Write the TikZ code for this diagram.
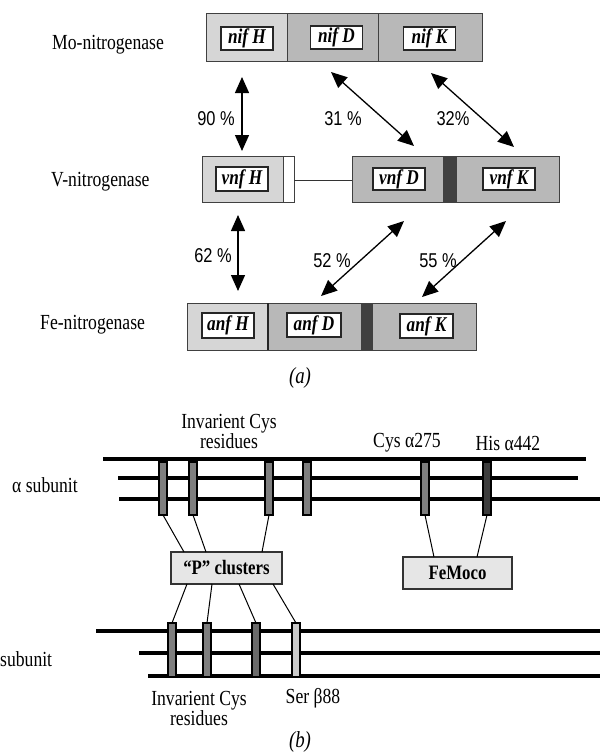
\documentclass[tikz,border=0pt]{standalone}
\usepackage{fontspec}
\setmainfont{Liberation Serif}[FakeStretch=0.82]
\newfontfamily\pctfont{Liberation Sans}[FakeStretch=0.82]
\usetikzlibrary{arrows.meta,calc}
\definecolor{segL}{HTML}{D6D6D6}
\definecolor{segM}{HTML}{B8B8B8}
\definecolor{segDk}{HTML}{404040}
\definecolor{barM}{HTML}{7E7E7E}
\definecolor{barDk}{HTML}{3C3C3C}
\definecolor{barL}{HTML}{CACACA}
\definecolor{boxF}{HTML}{E6E6E6}
\begin{document}
\begin{tikzpicture}[x=1bp,y=-1bp,
  font=\fontsize{21.5bp}{24bp}\selectfont,
  seg/.style={draw=black!75, line width=1bp, minimum height=47bp, inner sep=0pt, outer sep=0pt},
  gene/.style={draw=black!85, fill=white, line width=1.2bp, minimum height=23bp, minimum width=52bp, inner sep=0pt,
     font=\fontsize{21bp}{23bp}\selectfont\bfseries\itshape},
  dbl/.style={line width=1.3bp, {Triangle[length=16bp,width=14bp]}-{Triangle[length=16bp,width=14bp]}},
  pct/.style={font=\pctfont\fontsize{20bp}{22bp}\selectfont, inner sep=0pt},
  chainline/.style={line width=3.5bp},
  barbox/.style={draw=black, line width=1.5bp, minimum width=8bp, inner sep=0pt, outer sep=0pt},
  conn/.style={line width=1bp},
  infobox/.style={draw=black!80, fill=boxF, line width=1.2bp, inner sep=0pt, outer sep=0pt,
     minimum height=32bp, font=\fontsize{20.5bp}{23bp}\selectfont\bfseries},
  txt/.style={inner sep=0pt}
]
\useasboundingbox (0,0) rectangle (600,752);

% ---------------- (a) ----------------
\node[txt, anchor=west] (lmo) at (52,45) {Mo-nitrogenase};
\node[txt, anchor=west] (lv) at (51,182) {V-nitrogenase};
\node[txt, anchor=west] (lfe) at (40,325) {Fe-nitrogenase};

% Mo row
\node[seg, fill=segL, minimum width=81bp] (moH) at (246.5,37.5) {};
\node[seg, fill=segM, minimum width=91bp] (moD) at (332.5,37.5) {};
\node[seg, fill=segM, minimum width=104bp] (moK) at (430,37.5) {};
\node[gene] (nifH) at (247,38.5) {nif H};
\node[gene] (nifD) at (336.5,37.5) {nif D};
\node[gene] (nifK) at (429.5,38.5) {nif K};

% V row
\node[seg, fill=segL, minimum width=81bp, minimum height=46bp] (vH) at (242.5,179) {};
\node[seg, fill=white, minimum width=11bp, minimum height=46bp] (vS) at (288.5,179) {};
\node[seg, fill=segM, minimum width=91bp, minimum height=46bp] (vD) at (397.5,179) {};
\node[seg, fill=segDk, minimum width=13bp, minimum height=46bp] (vX) at (449.5,179) {};
\node[seg, fill=segM, minimum width=103bp, minimum height=46bp] (vK) at (507.5,179) {};
\draw[line width=1bp, black!80] ([yshift=-1bp]vS.east) -- ([yshift=-1bp]vD.west);
\node[gene, minimum height=24bp] (vnfH) at (242,179) {vnf H};
\node[gene, minimum height=22bp] (vnfD) at (399,179) {vnf D};
\node[gene, minimum height=22bp] (vnfK) at (509,179) {vnf K};

% Fe row
\node[seg, fill=segL, minimum width=81bp] (fH) at (227.5,326.5) {};
\node[seg, fill=segM, minimum width=93bp] (fD) at (314.5,326.5) {};
\node[seg, fill=segDk, minimum width=11bp] (fX) at (366.5,326.5) {};
\node[seg, fill=segM, minimum width=104bp] (fK) at (424,326.5) {};
\draw[line width=1.6bp, black!85] (fH.north east) -- (fH.south east);
\node[gene, minimum height=25bp] (anfH) at (228,325.5) {anf H};
\node[gene, minimum width=54bp, minimum height=24bp] (anfD) at (314,325) {anf D};
\node[gene, minimum width=53bp, minimum height=24bp] (anfK) at (426.5,326) {anf K};

% arrows
\coordinate (p1a) at (242,77);  \coordinate (p1b) at (242,151);
\coordinate (p2a) at (331,72);  \coordinate (p2b) at (414,146);
\coordinate (p3a) at (431,73);  \coordinate (p3b) at (514,147);
\coordinate (p4a) at (238,215); \coordinate (p4b) at (238,291);
\coordinate (p5a) at (321,296); \coordinate (p5b) at (404,221);
\coordinate (p6a) at (422,297); \coordinate (p6b) at (506,221);
\draw[dbl] (p1a) -- (p1b);
\draw[dbl] (p2a) -- (p2b);
\draw[dbl] (p3a) -- (p3b);
\draw[dbl] (p4a) -- (p4b);
\draw[dbl] (p5a) -- (p5b);
\draw[dbl] (p6a) -- (p6b);
\node[pct] (t90) at (216,119) {90 \%};
\node[pct] (t31) at (343,119) {31 \%};
\node[pct] (t32) at (453,119) {32\%};
\node[pct] (t62) at (213,256) {62 \%};
\node[pct] (t52) at (332,261) {52 \%};
\node[pct] (t55) at (438,261) {55 \%};

\node[txt, font=\fontsize{23bp}{26bp}\selectfont] (capa) at (300,378) {\itshape(a)};

% ---------------- (b) ----------------
% alpha subunit lines
\coordinate (aL1s) at (103,459); \coordinate (aL1e) at (586,459);
\coordinate (aL2s) at (118,478); \coordinate (aL2e) at (578,478);
\coordinate (aL3s) at (119,499); \coordinate (aL3e) at (600,499);
\draw[chainline] (aL1s) -- (aL1e);
\draw[chainline] (aL2s) -- (aL2e);
\draw[chainline] (aL3s) -- (aL3e);
% beta subunit lines
\coordinate (bL1s) at (96,631);  \coordinate (bL1e) at (600,631);
\coordinate (bL2s) at (139,653); \coordinate (bL2e) at (600,653);
\coordinate (bL3s) at (148,676); \coordinate (bL3e) at (600,676);
\draw[chainline] (bL1s) -- (bL1e);
\draw[chainline] (bL2s) -- (bL2e);
\draw[chainline] (bL3s) -- (bL3e);

% alpha bars
\node[barbox, fill=barM, minimum height=53bp] (a1) at (163,488.5) {};
\node[barbox, fill=barM, minimum height=53bp] (a2) at (193,488.5) {};
\node[barbox, fill=barM, minimum height=53bp] (a3) at (269,488.5) {};
\node[barbox, fill=barM, minimum height=53bp] (a4) at (307,488.5) {};
\node[barbox, fill=barM, minimum height=53bp] (a5) at (425,488.5) {};
\node[barbox, fill=barDk, minimum height=53bp] (a6) at (487,488.5) {};
% beta bars
\node[barbox, fill=barM, minimum height=54bp] (b1) at (172,650) {};
\node[barbox, fill=barM, minimum height=54bp] (b2) at (207,650) {};
\node[barbox, fill=barM!85!black, minimum height=54bp] (b3) at (256,650) {};
\node[barbox, fill=barL, minimum height=54bp] (b4) at (296,650) {};

% boxes
\node[infobox, minimum width=111bp] (pc) at (226.5,568) {“P” clusters};
\node[infobox, minimum width=109bp] (fm) at (457.5,573) {FeMoco};

% connectors
\draw[conn] (a1.south) -- ([xshift=13bp]pc.north west);
\draw[conn] (a2.south) -- ([xshift=35bp]pc.north west);
\draw[conn] (a3.south) -- ([xshift=91bp]pc.north west);
\draw[conn] ([xshift=16bp]pc.south west) -- (b1.north);
\draw[conn] ([xshift=41bp]pc.south west) -- (b2.north);
\draw[conn] ([xshift=68bp]pc.south west) -- (b3.north);
\draw[conn] ([xshift=102bp]pc.south west) -- (b4.north);
\draw[conn] (a5.south) -- ([xshift=31bp]fm.north west);
\draw[conn] (a6.south) -- ([xshift=74bp]fm.north west);

% labels
\node[txt, anchor=west] (lalpha) at (12,485) {α subunit};
\node[txt, anchor=west] (lbeta) at (0,659) {subunit};
\node[txt, align=center] (inv1) at (229,431) {Invarient Cys\\[-4bp]residues};
\node[txt] (cys) at (407,443) {Cys α275};
\node[txt] (his) at (508,443) {His α442};
\node[txt, align=center] (inv2) at (199,708) {Invarient Cys\\[-4bp]residues};
\node[txt] (ser) at (313,698) {Ser β88};
\node[txt, font=\fontsize{23bp}{26bp}\selectfont] (capb) at (300,742) {\itshape(b)};
\end{tikzpicture}
\end{document}
